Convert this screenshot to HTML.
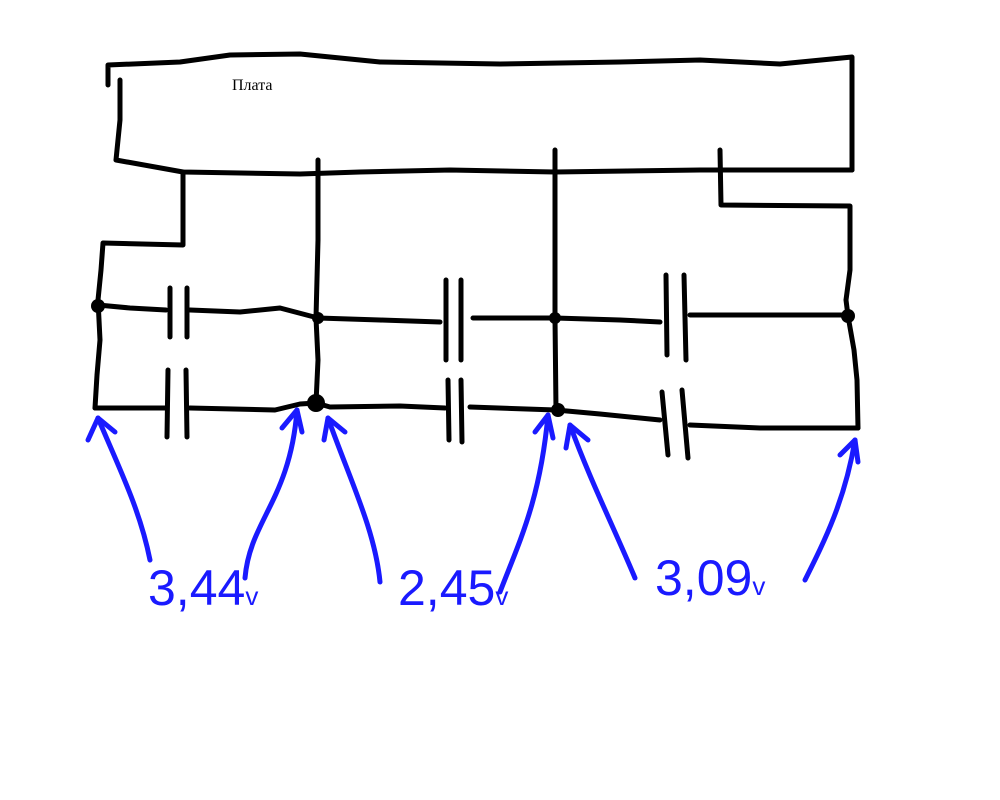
<!DOCTYPE html>
<html><head><meta charset="utf-8"><style>
html,body{margin:0;padding:0;background:#fff;}
svg{display:block}
</style></head><body>
<svg width="1000" height="800" viewBox="0 0 1000 800" xmlns="http://www.w3.org/2000/svg">
<g fill="none" stroke="#000" stroke-width="5" stroke-linecap="round" stroke-linejoin="round">
<polyline points="108,85 108,65 180,62 230,55 300,54 380,62 500,64 620,62 700,60 780,64 852,57 852,170"/>
<polyline points="120,80 120,120 116,160 183,172 300,174 360,172 450,170 555,172 700,170 852,170"/>
<polyline points="183,172 183,245 103,243 101,270 98,300 100,340 97,375 95,408"/>
<polyline points="318,160 318,240 316,318 318,360 316,403"/>
<polyline points="555,150 555,318 556,410"/>
<polyline points="720,150 721,205 850,206 850,270 846,300 848,316 854,350 857,380 858,428"/>
<polyline points="98,305 130,308 166,310"/>
<line x1="170" y1="288" x2="170" y2="337"/>
<line x1="187" y1="288" x2="187" y2="337"/>
<polyline points="190,310 240,312 280,308 318,318 380,320 440,322"/>
<line x1="446" y1="280" x2="446" y2="360"/>
<line x1="461" y1="280" x2="461" y2="360"/>
<polyline points="473,318 555,318 620,320 660,322"/>
<line x1="666" y1="275" x2="667" y2="355"/>
<line x1="684" y1="275" x2="686" y2="360"/>
<polyline points="690,315 848,315"/>
<polyline points="95,408 165,408"/>
<line x1="168" y1="370" x2="167" y2="437"/>
<line x1="186" y1="370" x2="187" y2="437"/>
<polyline points="190,408 275,410 300,404 316,403 330,407 400,406 445,408"/>
<line x1="448" y1="380" x2="449" y2="440"/>
<line x1="461" y1="380" x2="462" y2="442"/>
<polyline points="470,407 556,410 600,414 640,418 660,420"/>
<line x1="662" y1="392" x2="668" y2="455"/>
<line x1="682" y1="390" x2="688" y2="458"/>
<polyline points="690,425 760,428 858,428"/>
</g>
<g fill="#000">
<circle cx="98" cy="306" r="7"/><circle cx="318" cy="318" r="6"/><circle cx="316" cy="403" r="9"/>
<circle cx="555" cy="318" r="6"/><circle cx="558" cy="410" r="7"/><circle cx="848" cy="316" r="7"/>
</g>
<text x="232" y="90" font-family="Liberation Serif, serif" font-size="16">Плата</text>
<g fill="none" stroke="#1a1aff" stroke-width="5" stroke-linecap="round" stroke-linejoin="round">
<path d="M150,560 C140,510 120,470 98,418"/>
<path d="M88,440 L98,418 L115,432"/>
<path d="M245,578 C250,520 290,500 297,410"/>
<path d="M282,428 L297,410 L302,432"/>
<path d="M380,582 C375,530 350,480 328,418"/>
<path d="M324,440 L328,418 L345,432"/>
<path d="M500,592 C520,540 540,500 548,415"/>
<path d="M535,432 L548,415 L553,438"/>
<path d="M635,578 C615,530 590,480 570,425"/>
<path d="M566,448 L570,425 L588,440"/>
<path d="M805,580 C825,540 845,500 855,440"/>
<path d="M840,455 L855,440 L858,462"/>
</g>
<g fill="#1a1aff" font-family="Liberation Sans, sans-serif" font-size="50">
<text x="148" y="605">3,44<tspan font-size="26">v</tspan></text>
<text x="398" y="605">2,45<tspan font-size="26">v</tspan></text>
<text x="655" y="595">3,09<tspan font-size="26">v</tspan></text>
</g>
</svg>
</body></html>
